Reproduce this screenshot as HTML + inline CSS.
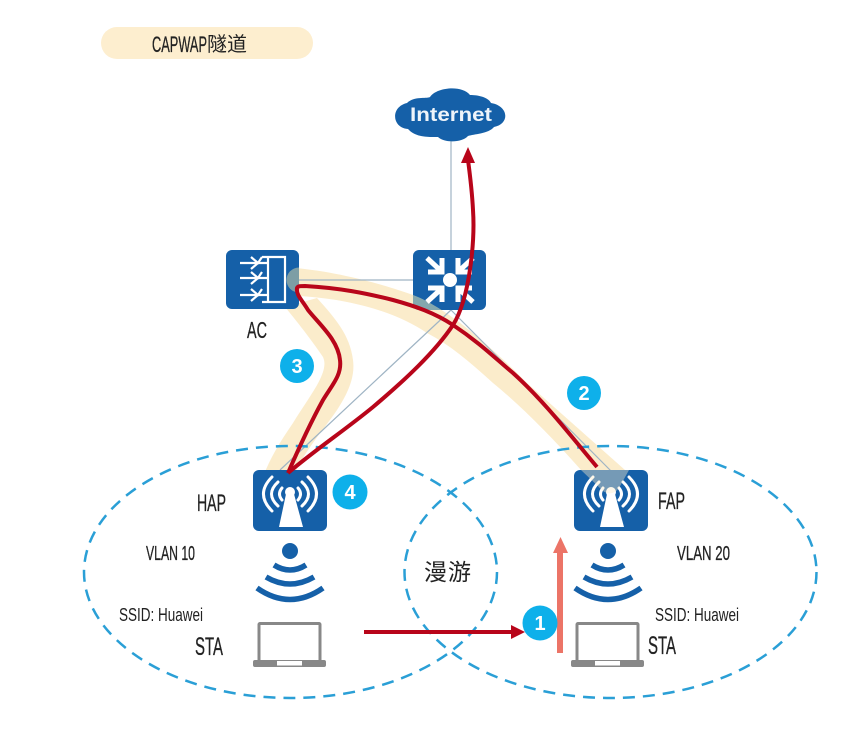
<!DOCTYPE html>
<html><head><meta charset="utf-8"><style>
html,body{margin:0;padding:0;background:#fff;width:859px;height:729px;overflow:hidden}
svg{display:block}
text{font-family:"Liberation Sans","Noto Sans CJK SC",sans-serif;fill:#222}
.l{stroke:#222;stroke-width:.3}
</style></head><body>
<svg width="859" height="729" viewBox="0 0 859 729" xmlns="http://www.w3.org/2000/svg">
<defs>
<clipPath id="swc"><rect x="413" y="250" width="73" height="60" rx="6"/></clipPath>
<clipPath id="acc"><rect x="226" y="250" width="73" height="59" rx="6"/></clipPath>
<g id="ap">
<rect x="0" y="0" width="74" height="61" rx="6" fill="#1560a8"/>
<g fill="none" stroke="#fff" stroke-linecap="round">
<path d="M19 7Q2 24 19 41" stroke-width="3"/><path d="M25 12Q12 24 25 36" stroke-width="3"/><path d="M29 18Q24 24 29 30" stroke-width="3"/>
<path d="M55 7Q72 24 55 41" stroke-width="3"/><path d="M49 12Q62 24 49 36" stroke-width="3"/><path d="M45 18Q50 24 45 30" stroke-width="3"/>
</g>
<circle cx="37" cy="22" r="5" fill="#fff"/>
<path d="M33 24H41L50 57H26Z" fill="#fff"/>
</g>
<g id="wifi" fill="none" stroke="#1560a8" stroke-width="5.500">
<circle cx="0" cy="0" r="8" fill="#1560a8" stroke="none"/>
<path d="M-16 14Q0 24 16 14"/><path d="M-24 26Q0 40 24 26"/><path d="M-33 37Q0 60 33 37"/>
</g>
<g id="laptop">
<rect x="6" y="1.500" width="61" height="39" fill="#fff" stroke="#888" stroke-width="3" rx="1"/>
<rect x="0" y="38" width="73" height="7" rx="2" fill="#888"/>
<rect x="24" y="39" width="25" height="4.500" fill="#fff"/>
</g>
<path id="b2" d="M295 268C340 272 385 285 413 295C440 305 480 335 527 383L625 470H581C550 435 520 405 493 383C470 362 450 345 427 333C400 315 360 300 300 296Z"/>
</defs>

<rect x="101" y="27" width="212" height="32" rx="16" fill="#fdeecf"/>
<text class="l" x="152" y="52" font-size="22" textLength="55" lengthAdjust="spacingAndGlyphs">CAPWAP</text>
<text x="207" y="51" font-size="20" textLength="40" lengthAdjust="spacingAndGlyphs">隧道</text>

<!-- tunnel highlight -->
<g fill="#fbeccb">
<use href="#b2"/>
<path d="M285 307C300 325 315 345 323 357C330 372 310 395 293 423C280 442 270 458 263 477H293C305 450 322 432 337 410C350 390 355 375 353 360C350 335 335 318 317 298Z"/>
</g>

<!-- thin links -->
<g fill="none" stroke="#9fb4c4" stroke-width="1.200">
<path d="M451 141V252"/>
<path d="M290 280H415"/>
<path d="M451 310L280 470"/>
<path d="M451 310L612 472"/>
</g>

<!-- devices -->
<rect x="226" y="250" width="73" height="59" rx="6" fill="#1560a8"/>
<g stroke="#fff" fill="none" stroke-width="2.200">
<path d="M240 263H268M240 278H268M240 295H268"/>
<path d="M262 257H285V302H262M268 257V302"/>
<path d="M251 257L258 263L262 257M251 269L258 263M251 272L258 278L262 272M251 284L258 278M251 289L258 295L262 289M251 301L258 295"/>
</g>
<circle cx="299" cy="280" r="12.500" fill="#7d9ea5" clip-path="url(#acc)"/>

<rect x="413" y="250" width="73" height="60" rx="6" fill="#1560a8"/>
<use href="#b2" fill="#a9c0b0" opacity=".75" clip-path="url(#swc)"/>
<circle cx="450" cy="280" r="7" fill="#fff"/>
<g stroke="#fff" stroke-width="5" fill="none">
<path d="M427 258L440 270M428 272H442V258"/>
<path d="M473 258L460 270M472 272H458V258"/>
<path d="M427 302L440 290M428 288H442V302"/>
<path d="M473 302L460 290M472 288H458V302"/>
</g>

<use href="#ap" x="253" y="470"/>
<use href="#ap" x="574" y="470"/>
<path d="M581 470H629L619 488Q612 497 603 491Z" fill="#fbeccb" opacity=".42"/>

<use href="#wifi" x="290" y="551"/>
<use href="#wifi" x="608" y="551"/>
<use href="#laptop" x="253" y="622"/>
<use href="#laptop" x="571" y="622"/>

<!-- cloud -->
<path d="M408 129C392 128 390 107 407 103C414 96 426 99 430 97C437 87 462 85 470 95C478 95 488 97 491 103C509 106 510 124 494 127C488 134 474 134 468 136C462 143 444 143 438 137C430 137 416 138 408 129Z" fill="#1560a8"/>
<text x="410" y="121" font-size="19" font-weight="bold" style="fill:#eef4fa" textLength="82" lengthAdjust="spacingAndGlyphs">Internet</text>

<!-- ellipses -->
<ellipse cx="290.500" cy="572" rx="206.500" ry="126" fill="none" stroke="#2a9fd6" stroke-width="2.500" stroke-dasharray="12 8"/>
<ellipse cx="610.500" cy="572" rx="206" ry="126" fill="none" stroke="#2a9fd6" stroke-width="2.500" stroke-dasharray="12 8"/>

<!-- red paths -->
<g fill="none" stroke="#b8051a" stroke-width="4" stroke-linejoin="round">
<path d="M288 473C315 450 345 430 373 407C405 380 435 352 453 325C470 298 475 240 473 210C472 190 470 175 468 160"/>
<path d="M288 473C298 450 312 420 323 400C332 385 342 375 340 360C338 340 320 325 308 310C302 300 296 295 297 288C298 286 300 286 305 286C340 288 365 293 393 300C415 306 435 313 453 325C480 343 495 358 513 373C545 402 570 435 597 467"/>
<path d="M364 632H515"/>
</g>
<path d="M468 147L475 163H461Z" fill="#b8051a"/>
<path d="M525 632L511 625V639Z" fill="#b8051a"/>

<!-- salmon arrow -->
<path d="M560 653V550" stroke="#ec7467" stroke-width="6" fill="none"/>
<path d="M560.500 537L568 553H553Z" fill="#ec7467"/>

<!-- badges -->
<g fill="#0eb0ea">
<circle cx="297" cy="366" r="17"/><circle cx="584" cy="393" r="17"/><circle cx="350" cy="492" r="17.500"/><circle cx="540" cy="623" r="17.500"/>
</g>
<g font-size="20" font-weight="bold" text-anchor="middle">
<text x="297" y="373" style="fill:#fff">3</text>
<text x="584" y="400" style="fill:#fff">2</text>
<text x="350" y="499" style="fill:#fff">4</text>
<text x="540" y="630" style="fill:#fff">1</text>
</g>

<!-- labels -->
<text class="l" x="247" y="338" font-size="23" textLength="20" lengthAdjust="spacingAndGlyphs">AC</text>
<text class="l" x="197" y="511" font-size="24" textLength="29" lengthAdjust="spacingAndGlyphs">HAP</text>
<text class="l" x="658" y="509" font-size="24" textLength="27" lengthAdjust="spacingAndGlyphs">FAP</text>
<text class="l" x="146" y="560" font-size="20" textLength="49" lengthAdjust="spacingAndGlyphs">VLAN 10</text>
<text class="l" x="677" y="560" font-size="20" textLength="53" lengthAdjust="spacingAndGlyphs">VLAN 20</text>
<text x="119" y="621" font-size="18" textLength="84" lengthAdjust="spacingAndGlyphs">SSID: Huawei</text>
<text x="655" y="621" font-size="18" textLength="84" lengthAdjust="spacingAndGlyphs">SSID: Huawei</text>
<text class="l" x="195" y="655" font-size="25" textLength="28" lengthAdjust="spacingAndGlyphs">STA</text>
<text class="l" x="648" y="654" font-size="25" textLength="28" lengthAdjust="spacingAndGlyphs">STA</text>
<text x="424" y="580" font-size="23" textLength="47">漫游</text>
</svg>
</body></html>
